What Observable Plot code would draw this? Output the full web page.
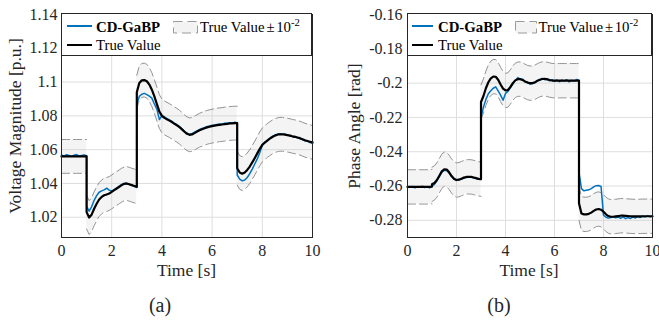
<!DOCTYPE html>
<html>
<head>
<meta charset="utf-8">
<script src="https://cdn.jsdelivr.net/npm/d3@7"></script>
<script src="https://cdn.jsdelivr.net/npm/@observablehq/plot@0.6"></script>
<style>
  html, body { margin: 0; padding: 0; background: #fff; }
  #fig { position: relative; width: 659px; height: 320px; overflow: hidden;
         font-family: "Liberation Serif", serif; color: #262626; }
  #fig, #fig div, #fig span, #fig b, #fig sup, #fig svg, #fig svg text {
         font-family: "Liberation Serif", serif !important; }
  .panel { position: absolute; top: 0; }
  .panel svg { overflow: visible; }
  .abs { position: absolute; white-space: nowrap; }
  .lbl { font-size: 17.5px; line-height: 17.5px; }
  .cap { font-size: 20px; line-height: 20px; }
  .ylab { transform: translate(-50%, -50%) rotate(-90deg); }
  .legbox { position: absolute; background: #fff; border: 1px solid #262626; box-sizing: border-box; }
  .legtxt { font-size: 14.8px; line-height: 14.8px; color: #000; }
  .legtxt sup { font-size: 0.72em; line-height: 0; vertical-align: 0.55em; }
  .sample { position: absolute; }
</style>
</head>
<body>
<div id="fig">
  <div id="pa" class="panel" style="left:0px"></div>
  <div id="pb" class="panel" style="left:330px"></div>
</div>
<script>
// ---------------- data ----------------
const segmentBounds = [0, 1, 3, 7, 10];   // switching instants [s]
const timeStep = 0.1;
const bandHalfWidth = 0.01;                // True Value ± 10^-2
const xTicks = [0, 2, 4, 6, 8, 10];
const yTicksMag = [1.02, 1.04, 1.06, 1.08, 1.1, 1.12, 1.14];
const yTicksAng = [-0.28, -0.26, -0.24, -0.22, -0.2, -0.18, -0.16];
const seriesNames = ["CD-GaBP", "True Value", "True Value ±10^-2"];

// Voltage magnitude [p.u.] – true value (segments 0-1, 1-3, 3-7, 7-10 s)
const magTrue = [
  1.056,1.056,1.056,1.056,1.056,1.056,1.056,1.056,1.056,1.056,1.056,
  1.023,1.0198,1.0215,1.025,1.028,1.0305,1.032,1.033,1.0335,1.034,1.035,1.036,1.037,1.038,1.039,1.0398,1.040,1.0395,1.039,1.0385,1.038,
  1.094,1.0995,1.101,1.1012,1.1005,1.0985,1.0955,1.0915,1.087,1.0825,1.0800,1.0788,1.0780,1.0772,1.0763,1.0753,1.0744,1.0733,1.0720,1.0706,1.0694,1.0688,1.0690,1.0698,1.0707,1.0715,1.0721,1.0727,1.0732,1.0736,1.0739,1.0742,1.0745,1.0747,1.0749,1.0751,1.0753,1.0755,1.0756,1.0757,1.0757,
  1.049,1.0465,1.0458,1.0465,1.048,1.050,1.0525,1.055,1.0578,1.0605,1.0628,1.0642,1.0654,1.0665,1.0675,1.0683,1.0688,1.0691,1.0691,1.0689,1.0686,1.0683,1.0679,1.0676,1.0672,1.0668,1.0662,1.0656,1.0651,1.0647,1.0643
];
// Voltage magnitude [p.u.] – CD-GaBP estimate
const magEst = [
  1.0568,1.0562,1.0570,1.0565,1.0560,1.0567,1.0571,1.0563,1.0566,1.0569,1.0564,
  1.0265,1.0236,1.0262,1.0300,1.0328,1.0348,1.0356,1.0362,1.0372,1.0360,1.0356,1.0363,1.0372,1.0384,1.0394,1.0400,1.0398,1.0393,1.0391,1.0383,1.0376,
  1.0870,1.0915,1.0928,1.0933,1.0926,1.0917,1.0905,1.0870,1.0840,1.0778,1.0802,1.0794,1.0784,1.0776,1.0768,1.0756,1.0748,1.0736,1.0723,1.0709,1.0697,1.0690,1.0695,1.0703,1.0711,1.0719,1.0726,1.0730,1.0737,1.0739,1.0744,1.0746,1.0749,1.0752,1.0751,1.0756,1.0757,1.0760,1.0758,1.0762,1.0759,
  1.0450,1.0425,1.0415,1.0420,1.0435,1.0458,1.0485,1.0515,1.0545,1.0582,1.0627,1.0643,1.0656,1.0667,1.0679,1.0686,1.0692,1.0694,1.0691,1.0692,1.0686,1.0684,1.0677,1.0678,1.0670,1.0666,1.0660,1.0653,1.0650,1.0642,1.0638
];
// Phase angle [rad] – true value
const angTrue = [
  -0.2605,-0.2605,-0.2605,-0.2605,-0.2605,-0.2605,-0.2605,-0.2605,-0.2605,-0.2605,-0.2603,
  -0.2590,-0.2582,-0.2565,-0.2540,-0.2514,-0.2502,-0.2504,-0.2520,-0.2542,-0.2558,-0.2565,-0.2563,-0.2557,-0.2551,-0.2547,-0.2546,-0.2547,-0.2550,-0.2554,-0.2558,-0.2560,
  -0.2110,-0.2075,-0.2030,-0.1995,-0.1972,-0.1962,-0.1963,-0.1980,-0.2008,-0.2032,-0.2043,-0.2040,-0.2022,-0.2000,-0.1984,-0.1977,-0.1977,-0.1982,-0.1990,-0.1997,-0.2000,-0.2000,-0.1995,-0.1987,-0.1980,-0.1976,-0.1975,-0.1978,-0.1982,-0.1985,-0.1986,-0.1986,-0.1986,-0.1986,-0.1986,-0.1986,-0.1986,-0.1986,-0.1986,-0.1986,-0.1986,
  -0.2700,-0.2760,-0.2765,-0.2765,-0.2762,-0.2755,-0.2745,-0.2737,-0.2734,-0.2738,-0.2750,-0.2765,-0.2775,-0.2779,-0.2779,-0.2777,-0.2775,-0.2773,-0.2773,-0.2774,-0.2775,-0.2776,-0.2777,-0.2777,-0.2777,-0.2777,-0.2776,-0.2776,-0.2776,-0.2776,-0.2776
];
// Phase angle [rad] – CD-GaBP estimate
const angEst = [
  -0.2602,-0.2608,-0.2603,-0.2610,-0.2604,-0.2607,-0.2601,-0.2609,-0.2605,-0.2611,-0.2600,
  -0.2600,-0.2590,-0.2570,-0.2545,-0.2520,-0.2508,-0.2510,-0.2523,-0.2545,-0.2561,-0.2566,-0.2562,-0.2560,-0.2553,-0.2550,-0.2549,-0.2546,-0.2553,-0.2556,-0.2561,-0.2562,
  -0.2200,-0.2140,-0.2095,-0.2062,-0.2045,-0.2030,-0.2022,-0.2045,-0.2070,-0.2100,-0.2060,-0.2048,-0.2028,-0.2005,-0.1985,-0.1968,-0.1975,-0.1978,-0.1994,-0.1995,-0.2006,-0.2003,-0.1998,-0.1984,-0.1983,-0.1972,-0.1980,-0.1974,-0.1987,-0.1980,-0.1990,-0.1982,-0.1992,-0.1983,-0.1989,-0.1980,-0.1993,-0.1984,-0.1988,-0.1979,-0.1985,
  -0.2520,-0.2615,-0.2628,-0.2625,-0.2622,-0.2615,-0.2605,-0.2598,-0.2597,-0.2603,-0.2770,-0.2782,-0.2787,-0.2783,-0.2779,-0.2785,-0.2781,-0.2788,-0.2780,-0.2790,-0.2784,-0.2789,-0.2781,-0.2786,-0.2778,-0.2783,-0.2776,-0.2780,-0.2774,-0.2779,-0.2776
];

// ---------------- time grid (per segment, jump = repeated instant) ----------------
const timeAxis = [], segIndex = [];
for (let s = 0; s < segmentBounds.length - 1; s++) {
  const a = segmentBounds[s], b = segmentBounds[s + 1];
  const n = Math.round((b - a) / timeStep);
  for (let i = 0; i <= n; i++) { timeAxis.push(+(a + i * timeStep).toFixed(3)); segIndex.push(s); }
}

const fmt = d => String(Math.round(d * 100) / 100);
const BLUE = "#0072BD";
const SERIF = "Liberation Serif";

function makePanel({trueVals, estVals, yDomain, yTicks, width, marginLeft, marginRight, tickPadY}) {
  const rows = timeAxis.map((t, i) => ({
    t, seg: segIndex[i], tv: trueVals[i], ev: estVals[i],
    lo: trueVals[i] - bandHalfWidth, hi: trueVals[i] + bandHalfWidth
  }));
  return Plot.plot({
    width, height: 290,
    marginLeft, marginRight, marginTop: 14, marginBottom: 53,
    style: {fontFamily: SERIF, fontSize: "16px", color: "#262626", background: "transparent"},
    x: {domain: [0, 10]},
    y: {domain: yDomain},
    marks: [
      Plot.gridX(xTicks, {stroke: "#dedede", strokeOpacity: 1, strokeWidth: 1}),
      Plot.gridY(yTicks, {stroke: "#dedede", strokeOpacity: 1, strokeWidth: 1}),
      Plot.areaY(rows, {x: "t", y1: "lo", y2: "hi", z: "seg", fill: "#cccccc", fillOpacity: 0.22}),
      Plot.line(rows, {x: "t", y: "hi", z: "seg", stroke: "#939393", strokeWidth: 1, strokeDasharray: "8,4"}),
      Plot.line(rows, {x: "t", y: "lo", z: "seg", stroke: "#939393", strokeWidth: 1, strokeDasharray: "8,4"}),
      Plot.line(rows, {x: "t", y: "ev", stroke: BLUE, strokeWidth: 1.5}),
      Plot.line(rows, {x: "t", y: "tv", stroke: "#000", strokeWidth: 2.2}),
      Plot.axisX(xTicks, {tickSize: 0, tickPadding: 7, tickFormat: fmt, label: null, fill: "#262626", fontFamily: SERIF, fontSize: 16}),
      Plot.axisY(yTicks, {tickSize: 0, tickPadding: tickPadY, tickFormat: fmt, label: null, fill: "#262626", fontFamily: SERIF, fontSize: 16}),
      Plot.frame({stroke: "#262626", strokeWidth: 1})
    ]
  });
}

document.getElementById("pa").append(makePanel({
  trueVals: magTrue, estVals: magEst, yDomain: [1.008, 1.14], yTicks: yTicksMag,
  width: 330, marginLeft: 61, marginRight: 18, tickPadY: 4
}));
document.getElementById("pb").append(makePanel({
  trueVals: angTrue, estVals: angEst, yDomain: [-0.29, -0.16], yTicks: yTicksAng,
  width: 329, marginLeft: 77, marginRight: 7, tickPadY: 5
}));

// ---------------- labels, captions, legends (HTML text) ----------------
const fig = document.getElementById("fig");
function addText(html, cls, style) {
  const el = document.createElement("div");
  el.className = "abs " + cls;
  el.innerHTML = html;
  Object.assign(el.style, style);
  fig.append(el);
  return el;
}
addText("Time [s]", "lbl", {left: "186.5px", top: "262.3px", transform: "translateX(-50%)"});
addText("Time [s]", "lbl", {left: "529px", top: "262.3px", transform: "translateX(-50%)"});
addText("Voltage Magnitude [p.u.]", "lbl ylab", {left: "16px", top: "126px"});
addText("Phase Angle [rad]", "lbl ylab", {left: "355px", top: "126px"});
addText("(a)", "cap", {left: "160px", top: "295px", transform: "translateX(-50%)"});
addText("(b)", "cap", {left: "499px", top: "295px", transform: "translateX(-50%)"});

function addLegend(box, lineX, lineW, nameX, patchX, patchW, bandX) {
  const b = document.createElement("div");
  b.className = "legbox";
  Object.assign(b.style, {left: box[0] + "px", top: "13px", width: box[1] + "px", height: "43px"});
  fig.append(b);
  const s1 = document.createElement("div");
  s1.className = "sample";
  Object.assign(s1.style, {left: lineX + "px", top: "25px", width: lineW + "px", height: "2px", background: BLUE});
  fig.append(s1);
  const s2 = document.createElement("div");
  s2.className = "sample";
  Object.assign(s2.style, {left: lineX + "px", top: "43.5px", width: lineW + "px", height: "2.4px", background: "#000"});
  fig.append(s2);
  const ns = "http://www.w3.org/2000/svg";
  const p = document.createElementNS(ns, "svg");
  p.setAttribute("width", patchW + 1); p.setAttribute("height", 13);
  Object.assign(p.style, {position: "absolute", left: patchX + "px", top: "20.5px"});
  const r = document.createElementNS(ns, "rect");
  r.setAttribute("x", 0.5); r.setAttribute("y", 0.5); r.setAttribute("width", patchW); r.setAttribute("height", 11.5);
  r.setAttribute("fill", "#f3f3f3"); r.setAttribute("stroke", "#9a9a9a"); r.setAttribute("stroke-dasharray", "9,5");
  p.append(r);
  fig.append(p);
  addText("<b>" + seriesNames[0] + "</b>", "legtxt", {left: nameX + "px", top: "20px"});
  addText(seriesNames[1], "legtxt", {left: nameX + "px", top: "37.6px"});
  addText("True Value<span style='margin:0 1.5px 0 2px'>±</span>10<sup>-2</sup>", "legtxt", {left: bandX + "px", top: "20px"});
}
addLegend([61, 251], 67, 25, 96, 173, 24, 200);
addLegend([407, 245], 412, 21, 438, 515, 21, 538.5);
</script>
</body>
</html>
